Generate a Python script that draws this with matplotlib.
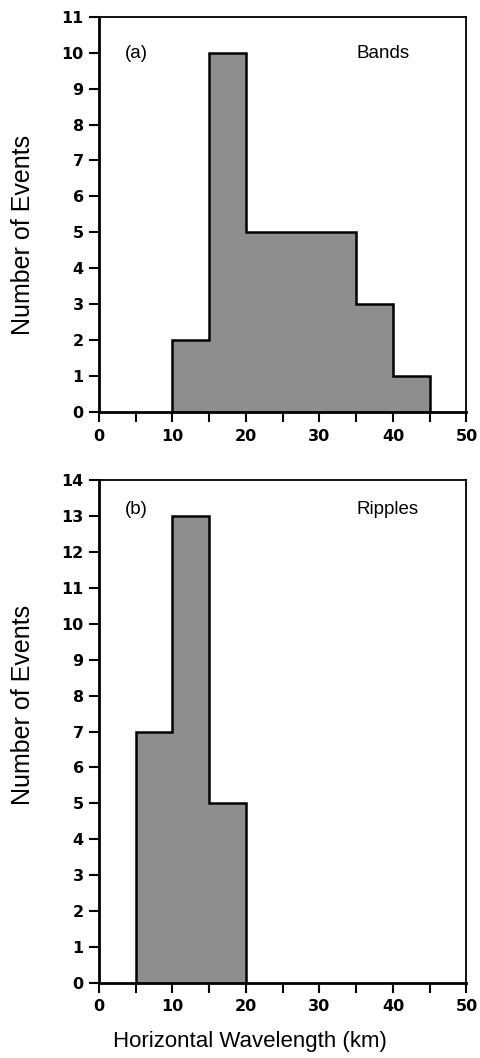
import matplotlib
matplotlib.use("Agg")
import matplotlib.pyplot as plt
import numpy as np

plt.rcParams['font.family'] = ['Liberation Sans', 'DejaVu Sans']

# Data
bands_edges = [10, 15, 20, 25, 30, 35, 40]
bands_counts = [2, 10, 5, 5, 5, 3, 1]
ripples_edges = [5, 10, 15]
ripples_counts = [7, 13, 5]
bin_width = 5
x_ticks = [0, 10, 20, 30, 40, 50]
bands_yticks = list(range(0, 12))
ripples_yticks = list(range(0, 15))

fig = plt.figure(figsize=(4.81, 10.58), dpi=100)
W, H = 481, 1058

def make_ax(l, t, r, b):
    return fig.add_axes([l / W, 1 - b / H, (r - l) / W, (b - t) / H])

ax1 = make_ax(99, 16.7, 466.5, 412)
ax2 = make_ax(99, 480.3, 466.5, 982.7)

def style(ax, edges, counts, yticks, ymax, tag, name, ty, ly):
    e = np.append(np.array(edges, float), edges[-1] + bin_width)
    ax.stairs(counts, e, fill=True, facecolor='#8e8e8e', edgecolor='none',
              linewidth=0, zorder=2)
    ax.stairs(counts, e, baseline=0, fill=False, edgecolor='black',
              linewidth=1.8, zorder=3)
    ax.set_xlim(0, 50)
    ax.set_ylim(0, ymax)
    ax.set_xticks(x_ticks)
    ax.set_xticks([5, 15, 25, 35, 45], minor=True)
    ax.set_yticks(yticks)
    ax.tick_params(axis='both', which='both', direction='out', length=7, width=1.5,
                   labelsize=11.5)
    ax.tick_params(axis='x', which='both', pad=5)
    ax.tick_params(axis='y', which='both', pad=4)
    for lab in ax.get_xticklabels() + ax.get_yticklabels():
        lab.set_fontweight('bold')
        lab.set_family('DejaVu Sans')
    for s in ['left', 'bottom']:
        ax.spines[s].set_linewidth(2.0)
    for s in ['top', 'right']:
        ax.spines[s].set_linewidth(1.3)
    ax.set_ylabel('Number of Events', fontsize=18)
    ax.yaxis.set_label_coords(-0.175, ly)
    ax.text(0.071, ty, tag, transform=ax.transAxes, fontsize=13.5,
            ha='left', va='center')
    ax.text(0.702, ty, name, transform=ax.transAxes, fontsize=13.5,
            ha='left', va='center')

style(ax1, bands_edges, bands_counts, bands_yticks, 11, '(a)', 'Bands', 0.908, 0.448)
style(ax2, ripples_edges, ripples_counts, ripples_yticks, 14, '(b)', 'Ripples', 0.941, 0.553)

fig.text(250 / W, 1 - 1041 / H, 'Horizontal Wavelength (km)', fontsize=16,
         ha='center', va='center')

fig.savefig('out.png', dpi=100)
